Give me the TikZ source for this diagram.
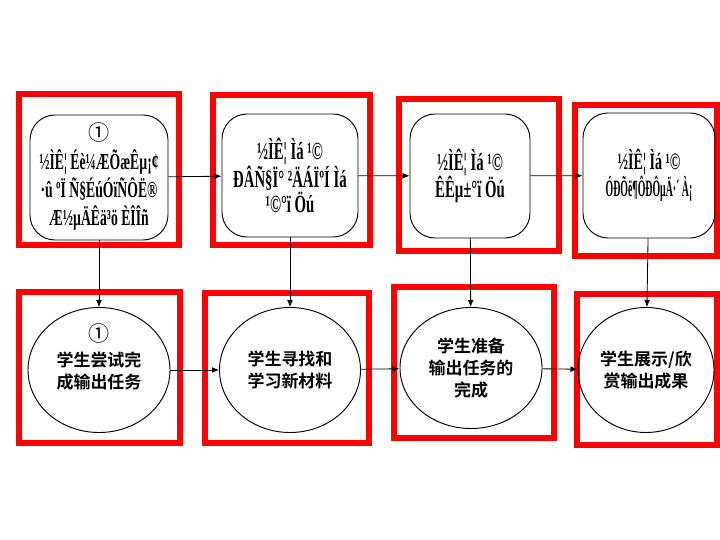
\documentclass[tikz,border=0pt]{standalone}
\usepackage{fontspec}
\setmainfont{Liberation Serif}
\newfontfamily\cjk[BoldFont={Noto Sans CJK SC Bold}]{Noto Sans CJK SC}
\newfontfamily\moji[FakeStretch=0.6]{Liberation Serif}
\newfontfamily\mojiangosto[FakeStretch=0.42]{Liberation Serif}
\newfontfamily\ringfont[BoldFont={Noto Sans CJK SC}]{Noto Sans CJK SC}
\usetikzlibrary{shapes.geometric,arrows.meta}

\begin{document}
\begin{tikzpicture}[
    x=0.03cm, y=-0.03cm,
    marco/.style={draw=red, line width=5pt},
    caja/.style={draw, rounded corners=0.75cm, line width=0.8pt, align=center,
      inner sep=0pt, font=\moji\bfseries\fontsize{21}{22}\selectfont},
    ovalo/.style={draw, ellipse, line width=0.8pt, inner sep=0pt},
    texto/.style={align=center, font=\cjk\bfseries\fontsize{14.5}{18.5}\selectfont},
    flecha/.style={-{Latex[length=6pt,width=5pt]}, line width=0.7pt}
]
    \useasboundingbox (0,0) rectangle (720,540);

    % Marcos rojos alrededor de cada paso
    \draw[marco] (19,94) rectangle (179,245);
    \draw[marco] (213,95) rectangle (370,245);
    \draw[marco] (399,99) rectangle (559,251);
    \draw[marco] (575,105) rectangle (717,256);
    \draw[marco] (19,292) rectangle (180,443);
    \draw[marco] (205,293) rectangle (369,443);
    \draw[marco] (394,287) rectangle (554,438);
    \draw[marco] (577,294) rectangle (717,445);

    % Fila de arriba: lo que hace el profesor
    \node[caja, minimum width=4.14cm, minimum height=3.75cm,
      font=\moji\bfseries\fontsize{19.5}{23}\selectfont] (b1) at (99,177.5)
      {\begin{tabular}{@{}c@{}}
         {\ringfont\mdseries\fontsize{18}{18}\selectfont ①}\\[1pt]
         ½ÌÊ¦ Éè¼ÆÕæÊµ¡¢\\ ·û ºÏ Ñ§ÉúÓïÑÔË®\\ Æ½µÄÊä³ö ÈÎÎñ
       \end{tabular}};
    \node[caja, minimum width=4.08cm, minimum height=3.69cm] (b2) at (290,175.5)
      {½ÌÊ¦ Ìá ¹©\\ ÐÂÑ§Ï° ²ÄÁÏºÍ Ìá\\ ¹©°ï Öú};
    \node[caja, minimum width=3.6cm, minimum height=3.72cm] (b3) at (470,176)
      {½ÌÊ¦ Ìá ¹©\\ ÊÊµ±°ï Öú};
    \node[caja, minimum width=3.96cm, minimum height=3.75cm,
      font=\moji\bfseries\fontsize{20}{21}\selectfont] (b4) at (649,175.5)
      {½ÌÊ¦ Ìá ¹©\\ {\mojiangosto ÓÐÕë¶ÔÐÔµÄ·´ À¡}};

    % Fila de abajo: lo que hacen los alumnos
    \node[ovalo, minimum width=4.26cm, minimum height=3.75cm] (e1) at (99,370) {};
    \node[texto] (t1) at (99,357)
      {{\ringfont\mdseries\fontsize{18}{18}\selectfont ①}\\[3pt] 学生尝试完\\ 成输出任务};
    \node[ovalo, texto, minimum width=4.23cm, minimum height=3.75cm] (e2) at (290,370)
      {学生寻找和\\ 学习新材料};
    \node[ovalo, texto, minimum width=4.26cm, minimum height=3.63cm] (e3) at (471,368)
      {学生准备\\ 输出任务的\\ 完成};
    \node[ovalo, texto, minimum width=4.08cm, minimum height=3.75cm] (e4) at (646,370)
      {学生展示/欣\\ 赏输出成果};

    % Flechas
    \draw[flecha] (b1) -- (b2);
    \draw[flecha] (b2) -- (b3);
    \draw[flecha] (b3) -- (b4);
    \draw[flecha] (b1) -- (e1);
    \draw[flecha] (b2) -- (e2);
    \draw[flecha] (b3) -- (e3);
    \draw[flecha] (b4) -- (e4);
    \draw[flecha] (e1) -- (e2);
    \draw[flecha] (e2) -- (e3);
    \draw[flecha] (e3) -- (e4);
\end{tikzpicture}
\end{document}
